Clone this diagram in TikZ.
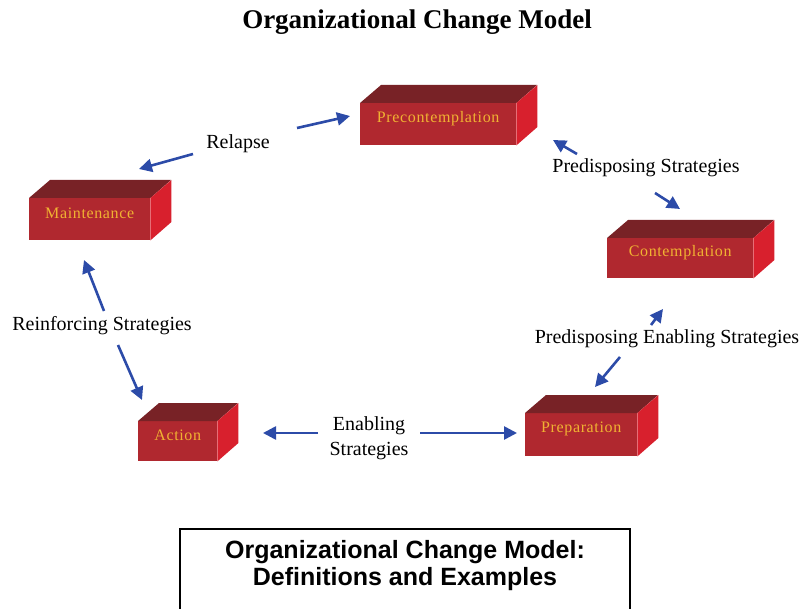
\documentclass[tikz,border=0pt]{standalone}
\usepackage{fontspec}
\setmainfont{Liberation Serif}
\newfontfamily\headsans{Liberation Sans}
\usetikzlibrary{arrows.meta}

\definecolor{frontred}{HTML}{B0282F}
\definecolor{topred}{HTML}{782226}
\definecolor{sidered}{HTML}{D8202D}
\definecolor{brickgold}{HTML}{F0B232}
\definecolor{arrowblue}{HTML}{2C4BA8}

% a red 3-D block: name, left x, top y, width, height, label
\newcommand{\brick}[6]{%
  \node[brickfront, minimum width=#4pt, minimum height=#5pt, anchor=north west] (#1) at (#2,#3) {};
  \fill[topred] (#1.north west) -- ++(21,-18) -- ++(#4,0) -- (#1.north east) -- cycle;
  \fill[sidered] (#1.north east) -- ++(21,-18) -- ++(0,#5) -- (#1.south east) -- cycle;
  \node[bricktext] (#1-label) at ([yshift=6pt]#1.center) {#6};
}

\begin{document}
\begin{tikzpicture}[x=1pt, y=-1pt,
  brickfront/.style={fill=frontred, inner sep=0pt},
  bricktext/.style={text=brickgold, inner sep=0pt,
    font=\fontsize{16}{18}\selectfont\addfontfeature{LetterSpace=4}},
  lbl/.style={font=\fontsize{20}{25}\selectfont, align=center, inner sep=1pt},
  flow/.style={draw=arrowblue, line width=2.6pt,
    -{Triangle[length=13pt, width=13pt]}}
]
\useasboundingbox (0,0) rectangle (803,609);

% title
\node[font=\fontsize{27}{30}\selectfont\bfseries] (title) at (417,22) {Organizational Change Model};

% stages
\brick{pre}{360}{103}{156}{42}{Precontemplation}
\brick{maint}{29}{198}{121}{42}{Maintenance}
\brick{cont}{607}{238}{146}{40}{Contemplation}
\brick{act}{138}{421}{79}{40}{Action}
\brick{prep}{525}{413}{112}{43}{Preparation}

% strategy labels
\node[lbl] (relapse) at (238,144) {Relapse};
\node[lbl] (pds) at (646,168) {Predisposing Strategies};
\node[lbl] (pes) at (667,339) {Predisposing Enabling Strategies};
\node[lbl] (rfs) at (102,326) {Reinforcing Strategies};
\node[lbl] (ens) at (369,438) {Enabling\\Strategies};

% arrow end points
\coordinate (r1s) at (193,154); \coordinate (r1e) at (139,169);
\coordinate (r2s) at (297,128); \coordinate (r2e) at (350,116);
\coordinate (p1s) at (577,154); \coordinate (p1e) at (553,140);
\coordinate (p2s) at (655,193); \coordinate (p2e) at (680,209);
\coordinate (e1s) at (651,325); \coordinate (e1e) at (663,309);
\coordinate (e2s) at (620,357); \coordinate (e2e) at (595,387);
\coordinate (f1s) at (104,311); \coordinate (f1e) at (84,260);
\coordinate (f2s) at (118,345); \coordinate (f2e) at (142,400);
\coordinate (g1s) at (318,433); \coordinate (g1e) at (263,433);
\coordinate (g2s) at (420,433); \coordinate (g2e) at (517,433);

\draw[flow] (r1s) -- (r1e);
\draw[flow] (r2s) -- (r2e);
\draw[flow] (p1s) -- (p1e);
\draw[flow] (p2s) -- (p2e);
\draw[flow] (e1s) -- (e1e);
\draw[flow] (e2s) -- (e2e);
\draw[flow] (f1s) -- (f1e);
\draw[flow] (f2s) -- (f2e);
\draw[flow] (g1s) -- (g1e);
\draw[flow] (g2s) -- (g2e);

% definitions panel
\draw[line width=1.8pt] (180,640) -- (180,529) -- (630,529) -- (630,640);
\node[font=\headsans\bfseries\fontsize{25}{27}\selectfont, align=center] (defs) at (405,566)
  {Organizational Change Model:\\Definitions and Examples};
\end{tikzpicture}
\end{document}
